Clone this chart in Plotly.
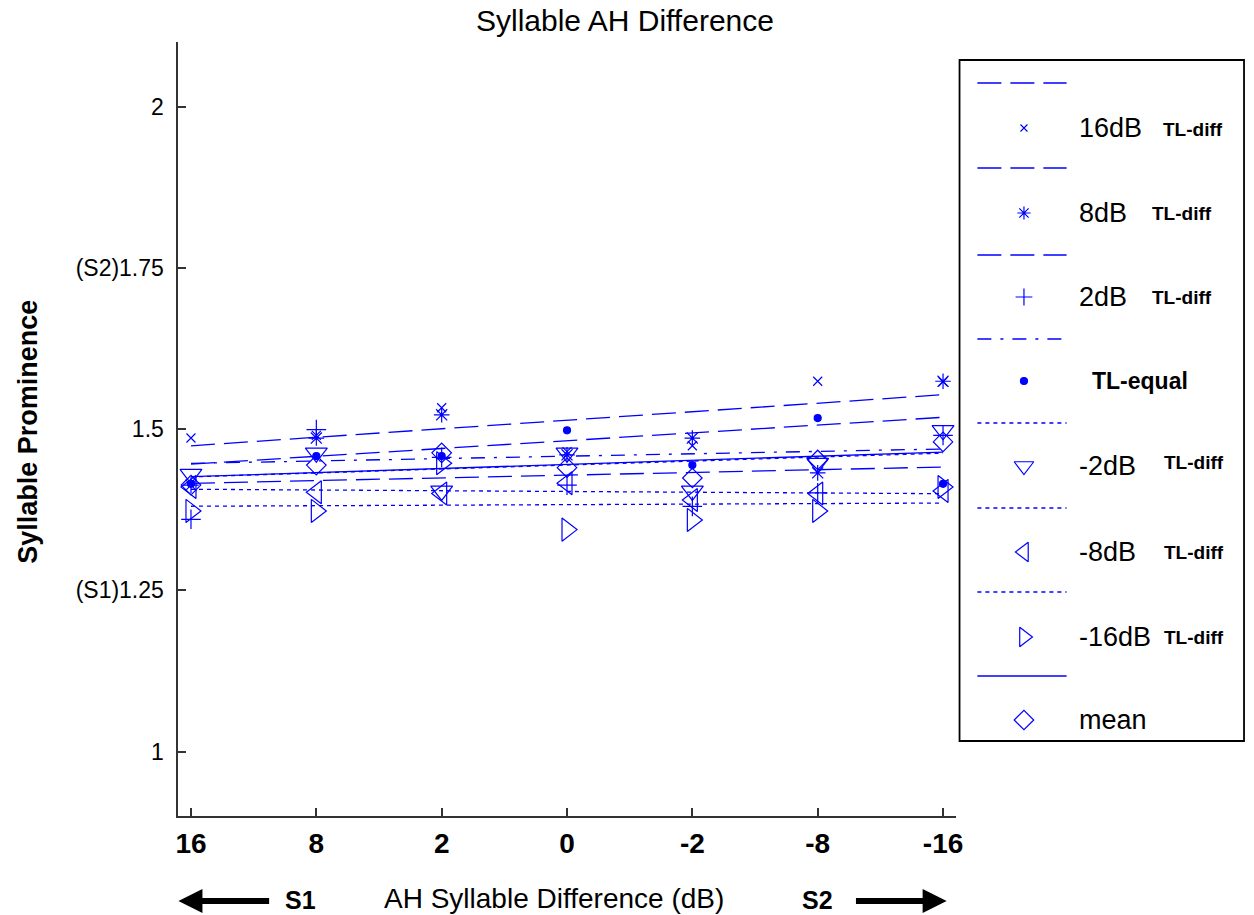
import numpy as np
import plotly.graph_objects as go

W, H = 1254, 915

# x categories (syllable level difference, dB)
x_labels = ["16", "8", "2", "0", "-2", "-8", "-16"]
x_pos = [1, 2, 3, 4, 5, 6, 7]

# syllable prominence per TL condition
tl_16 = [1.486, 1.490, 1.533, 1.465, 1.474, 1.574, 1.573]
tl_8 = [1.413, 1.486, 1.522, 1.460, 1.486, 1.432, 1.574]
tl_2 = [1.360, 1.499, 1.456, 1.413, 1.380, 1.401, 1.490]
tl_equal = [1.415, 1.458, 1.458, 1.498, 1.444, 1.517, 1.415]
tl_m2 = [1.430, 1.463, 1.404, 1.463, 1.404, 1.447, 1.498]
tl_m8 = [1.410, 1.402, 1.400, 1.416, 1.390, 1.400, 1.404]
tl_m16 = [1.373, 1.373, 1.447, 1.344, 1.359, 1.373, 1.410]
mean_vals = [1.413, 1.444, 1.463, 1.440, 1.424, 1.452, 1.480]

y_tickvals = [1, 1.25, 1.5, 1.75, 2]
y_ticktext = ["1", "(S1)1.25", "1.5", "(S2)1.75", "2"]

BLUE = "#0000ff"
DASH = "24px,9px"
DASHDOT = "14px,9px,3px,9px"
DOT = "4px,4px"
FONT = "Liberation Sans, Arial"

series = [
    # values, symbol, plot size, legend size, dash, label, suffix
    (tl_16, "x-thin-open", 9, 7, DASH, "16dB", "TL-diff"),
    (tl_8, "asterisk-open", 13, 11, DASH, "8dB", "TL-diff"),
    (tl_2, "cross-thin-open", 14, 12, DASH, "2dB", "TL-diff"),
    (tl_equal, "circle", 7, 7, DASHDOT, "", "TL-equal"),
    (tl_m2, "triangle-down-open", 19, 17, DOT, "-2dB", "TL-diff"),
    (tl_m8, "triangle-left-open", 20, 17, DOT, "-8dB", "TL-diff"),
    (tl_m16, "triangle-right-open", 20, 17, DOT, "-16dB", "TL-diff"),
    (mean_vals, "diamond-open", 15, 15, "solid", "mean", ""),
]

fig = go.Figure()

# least-squares trend line for each condition
for vals, sym, size, lsize, dash, label, suffix in series:
    coef = np.polyfit(x_pos, vals, 1)
    fit = np.polyval(coef, x_pos)
    fig.add_trace(go.Scatter(x=x_pos, y=fit, mode="lines",
                             line=dict(color=BLUE, width=1.3, dash=dash),
                             showlegend=False, hoverinfo="skip"))

# the measured points
for vals, sym, size, lsize, dash, label, suffix in series:
    fig.add_trace(go.Scatter(x=x_pos, y=vals, mode="markers",
                             marker=dict(symbol=sym, size=size, color=BLUE,
                                         line=dict(color=BLUE, width=1.2)),
                             name=(label + " " + suffix).strip(),
                             showlegend=False))

# legend drawn on a full-figure pixel overlay
line_rows = [83, 168, 255, 339, 423, 508, 592, 676]
mark_rows = [128, 213, 297, 381, 466, 552, 637, 720]
suffix_x = [1168, 1157, 1157, None, 1169, 1169, 1169, None]
suffix_y = [129, 213, 297, None, 462, 552, 637, None]

annotations = []
for i, (vals, sym, size, lsize, dash, label, suffix) in enumerate(series):
    fig.add_trace(go.Scatter(x=[983, 1073], y=[line_rows[i]] * 2, mode="lines",
                             line=dict(color=BLUE, width=1.3, dash=dash),
                             xaxis="x2", yaxis="y2", showlegend=False,
                             hoverinfo="skip"))
    fig.add_trace(go.Scatter(x=[1030], y=[mark_rows[i]], mode="markers",
                             marker=dict(symbol=sym, size=lsize, color=BLUE,
                                         line=dict(color=BLUE, width=1.2)),
                             xaxis="x2", yaxis="y2", showlegend=False,
                             hoverinfo="skip"))
    if label:
        annotations.append(dict(x=1084, y=mark_rows[i], xref="x2", yref="y2",
                                text=label, showarrow=False, xanchor="left",
                                yanchor="middle",
                                font=dict(size=27, color="black", family=FONT)))
    if suffix == "TL-diff":
        annotations.append(dict(x=suffix_x[i], y=suffix_y[i], xref="x2", yref="y2",
                                text="<b>TL-diff</b>", showarrow=False,
                                xanchor="left", yanchor="middle",
                                font=dict(size=19, color="black", family=FONT)))
    elif suffix == "TL-equal":
        annotations.append(dict(x=1097, y=mark_rows[i], xref="x2", yref="y2",
                                text="<b>TL-equal</b>", showarrow=False,
                                xanchor="left", yanchor="middle",
                                font=dict(size=23, color="black", family=FONT)))

# titles and the S1 / S2 direction markers
annotations += [
    dict(x=628, y=20, xref="x2", yref="y2", text="Syllable AH Difference",
         showarrow=False, font=dict(size=30, color="black", family=FONT)),
    dict(x=556, y=898, xref="x2", yref="y2", text="AH Syllable Difference (dB)",
         showarrow=False, font=dict(size=28, color="black", family=FONT)),
    dict(x=25, y=432, xref="x2", yref="y2", text="<b>Syllable Prominence</b>",
         textangle=-90, showarrow=False,
         font=dict(size=27, color="black", family=FONT)),
    dict(x=300, y=900, xref="x2", yref="y2", text="<b>S1</b>", showarrow=False,
         font=dict(size=25, color="black", family=FONT)),
    dict(x=822, y=900, xref="x2", yref="y2", text="<b>S2</b>", showarrow=False,
         font=dict(size=25, color="black", family=FONT)),
    dict(x=177, y=901, ax=270, ay=901, xref="x2", yref="y2", axref="x2",
         ayref="y2", text="", showarrow=True, arrowhead=2, arrowsize=0.8,
         arrowwidth=6, arrowcolor="black"),
    dict(x=952, y=901, ax=859, ay=901, xref="x2", yref="y2", axref="x2",
         ayref="y2", text="", showarrow=True, arrowhead=2, arrowsize=0.8,
         arrowwidth=6, arrowcolor="black"),
]

shapes = [
    dict(type="rect", xref="x2", yref="y2", x0=965, x1=1252, y0=60, y1=741,
         line=dict(color="black", width=1.8), fillcolor="rgba(0,0,0,0)"),
]

axis_color = "#333333"
fig.update_layout(
    width=W, height=H,
    margin=dict(l=0, r=0, t=0, b=0),
    paper_bgcolor="white", plot_bgcolor="rgba(0,0,0,0)",
    showlegend=False,
    xaxis=dict(domain=[177 / W, 961 / W], range=[0.9, 7.1], tickvals=x_pos,
               ticktext=x_labels, ticks="inside", ticklen=8, tickwidth=1.5,
               tickcolor=axis_color, showline=True, linecolor=axis_color,
               linewidth=2, showgrid=False, zeroline=False, anchor="y",
               ticklabelstandoff=1,
               tickfont=dict(size=28, color="black", family=FONT,
                             weight="bold")),
    yaxis=dict(domain=[(H - 816) / H, (H - 42) / H], range=[0.9, 2.1],
               tickvals=y_tickvals, ticktext=y_ticktext, ticks="inside",
               ticklen=8, tickwidth=1.5, tickcolor=axis_color, showline=True,
               linecolor=axis_color, linewidth=2, showgrid=False,
               zeroline=False, anchor="x", ticklabelstandoff=8,
               tickfont=dict(size=23, color="black", family=FONT)),
    xaxis2=dict(domain=[0, 1], range=[0, W], visible=False, anchor="y2",
                fixedrange=True),
    yaxis2=dict(domain=[0, 1], range=[H, 0], visible=False, anchor="x2",
                fixedrange=True),
    annotations=annotations,
    shapes=shapes,
)

fig.write_html("out.html")
